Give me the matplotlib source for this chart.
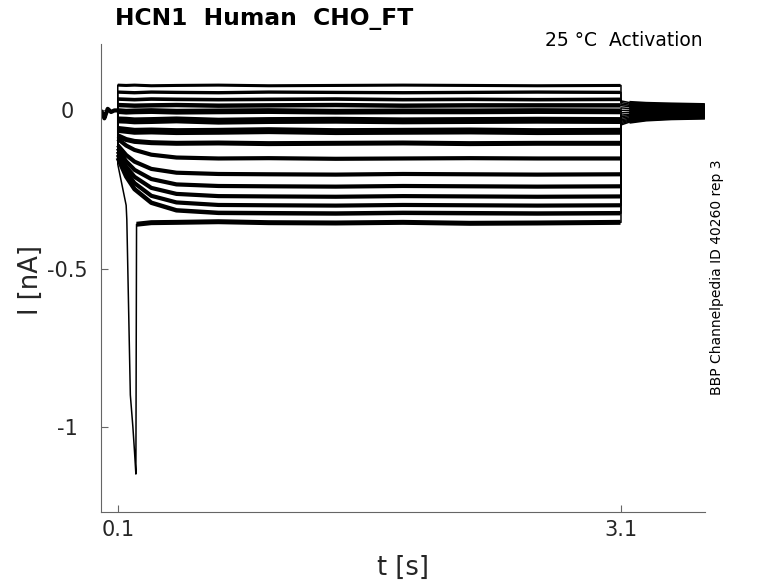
"""HCN1 activation traces - recorded current steps"""
import numpy as np
import matplotlib.pyplot as plt

# time samples (s) read along the step, shared by all sweeps
pre_times = [0.0, 0.01, 0.02, 0.04, 0.06, 0.08, 0.1]
pre_nA = [0.0, -0.01, -0.025, 0.005, -0.005, 0.0, 0.0]
step_times = [0.1, 0.15, 0.2, 0.3, 0.45, 0.7, 1.0, 1.4, 1.8, 2.2, 2.6, 3.1]
post_times = [3.1, 3.15, 3.25, 3.4, 3.6]

# current during the step (nA), one row per sweep, top to bottom
step_nA = [
    [0.080, 0.079, 0.080, 0.078, 0.079, 0.080, 0.078, 0.079, 0.080, 0.079, 0.078, 0.079],
    [0.058, 0.057, 0.056, 0.058, 0.057, 0.056, 0.058, 0.057, 0.056, 0.057, 0.058, 0.057],
    [0.036, 0.035, 0.034, 0.036, 0.035, 0.034, 0.035, 0.036, 0.034, 0.035, 0.034, 0.035],
    [0.017, 0.016, 0.015, 0.016, 0.017, 0.015, 0.016, 0.017, 0.015, 0.016, 0.016, 0.016],
    [-0.002, -0.004, -0.003, -0.002, -0.004, -0.003, -0.002, -0.004, -0.003, -0.003, -0.002, -0.003],
    [-0.030, -0.031, -0.033, -0.032, -0.030, -0.034, -0.032, -0.031, -0.033, -0.032, -0.031, -0.032],
    [-0.060, -0.063, -0.066, -0.065, -0.067, -0.066, -0.064, -0.067, -0.066, -0.065, -0.067, -0.066],
    [-0.080, -0.092, -0.098, -0.102, -0.104, -0.103, -0.105, -0.104, -0.103, -0.105, -0.104, -0.104],
    [-0.090, -0.111, -0.125, -0.140, -0.149, -0.152, -0.151, -0.153, -0.152, -0.151, -0.152, -0.152],
    [-0.110, -0.141, -0.162, -0.185, -0.197, -0.201, -0.202, -0.203, -0.201, -0.202, -0.203, -0.202],
    [-0.120, -0.161, -0.188, -0.217, -0.234, -0.239, -0.240, -0.241, -0.239, -0.240, -0.241, -0.240],
    [-0.130, -0.178, -0.210, -0.245, -0.264, -0.271, -0.272, -0.273, -0.271, -0.272, -0.273, -0.272],
    [-0.140, -0.194, -0.230, -0.270, -0.291, -0.299, -0.300, -0.301, -0.299, -0.300, -0.301, -0.300],
    [-0.150, -0.209, -0.249, -0.292, -0.316, -0.324, -0.325, -0.326, -0.324, -0.325, -0.326, -0.325],
    [-0.170, -0.300, -1.080, -0.355, -0.354, -0.352, -0.355, -0.356, -0.354, -0.357, -0.356, -0.354],
]

# big transient on the last sweep
spike_times = [0.154, 0.175, 0.19, 0.208, 0.212]
spike_nA = [-0.345, -0.90, -1.00, -1.15, -0.36]

# tail current after the step, one row per sweep
post_nA = [
    [0.030, 0.025, 0.022, 0.020, 0.018],
    [0.025, 0.020, 0.018, 0.016, 0.015],
    [0.020, 0.016, 0.014, 0.012, 0.012],
    [0.015, 0.012, 0.010, 0.009, 0.009],
    [0.008, 0.006, 0.005, 0.005, 0.005],
    [0.0, 0.0, 0.0, 0.0, 0.0],
    [-0.008, -0.006, -0.004, -0.004, -0.004],
    [-0.015, -0.012, -0.010, -0.008, -0.008],
    [-0.020, -0.016, -0.013, -0.011, -0.010],
    [-0.025, -0.020, -0.016, -0.014, -0.013],
    [-0.030, -0.024, -0.019, -0.017, -0.016],
    [-0.034, -0.028, -0.022, -0.020, -0.018],
    [-0.038, -0.031, -0.025, -0.022, -0.020],
    [-0.042, -0.034, -0.028, -0.024, -0.022],
    [-0.046, -0.037, -0.030, -0.026, -0.024],
]

# thicker strokes (points) stand in for the recording noise
widths = [2.2, 2.4, 2.6, 3.2, 4.2, 5.0, 5.0, 3.6, 3.0, 3.0, 3.0, 3.0, 3.0, 3.2, 3.6]


def sweep(i):
    t = list(step_times)
    v = list(step_nA[i])
    if i == len(step_nA) - 1:
        t += spike_times
        v += spike_nA
        order = np.argsort(t, kind='stable')
        t = list(np.array(t)[order])
        v = list(np.array(v)[order])
    t = pre_times + t + post_times
    v = pre_nA + v + post_nA[i]
    return np.array(t), np.array(v)


def plot_traces():
    fig = plt.figure(figsize=(7.78, 5.83), dpi=100)
    ax = fig.add_axes([0.1298, 0.1218, 0.7762, 0.8027])

    last = len(step_nA) - 1
    for i in range(len(step_nA)):
        # whole sweep, thin, so the step edges stay sharp
        t, v = sweep(i)
        ax.plot(t, v, color='black', lw=1.1, solid_joinstyle='round')

        # noise band along the step plateau
        ts = np.array(step_times)
        vs = np.array(step_nA[i])
        if i == last:
            keep = ts > 0.212
            ts, vs = ts[keep], vs[keep]
            ts = np.concatenate([[spike_times[-1]], ts])
            vs = np.concatenate([[spike_nA[-1]], vs])
        ax.plot(ts[:-1].tolist() + [ts[-1] - 0.003], vs, color='black',
                lw=widths[i], solid_capstyle='butt', solid_joinstyle='round')

        # tail band
        ax.plot(np.array(post_times[1:]), post_nA[i][1:], color='black',
                lw=2.4, solid_capstyle='butt')
    ax.plot(pre_times, pre_nA, color='black', lw=3.0, solid_capstyle='butt')

    ax.set_xlim(0, 3.6)
    ax.set_ylim(-1.27, 0.21)
    ax.set_xticks([0.1, 3.1])
    ax.set_xticklabels(['0.1', '3.1'])
    ax.set_yticks([-1, -0.5, 0])
    ax.set_yticklabels(['-1', '-0.5', '0'])
    for s in ['top', 'right']:
        ax.spines[s].set_visible(False)
    for s in ['left', 'bottom']:
        ax.spines[s].set_color('0.4')
        ax.spines[s].set_linewidth(0.8)
    ax.tick_params(direction='in', length=5, width=0.8, colors='0.4',
                   labelcolor='0.15', labelsize=15)
    ax.tick_params(axis='x', pad=6)
    ax.tick_params(axis='y', pad=24)
    for lab in ax.get_yticklabels():
        lab.set_horizontalalignment('center')

    ax.set_xlabel('t [s]', fontsize=18.5, color='0.15')
    ax.set_ylabel('I [nA]', fontsize=18.5, color='0.15')
    ax.xaxis.set_label_coords(0.5, -0.092)
    ax.yaxis.set_label_coords(-0.094, 0.496)

    fig.text(115 / 778, 1 - 18 / 583, 'HCN1  Human  CHO_FT', fontsize=16.8,
             fontweight='bold', va='center', ha='left')
    fig.text(703 / 778, 1 - 40 / 583, '25 °C  Activation', fontsize=13.5,
             va='center', ha='right')
    fig.text(717 / 778, 1 - 277 / 583, 'BBP Channelpedia ID 40260 rep 3',
             fontsize=10, rotation=90, va='center', ha='center')

    fig.savefig('out.png', dpi=100)


if __name__ == '__main__':
    plot_traces()
